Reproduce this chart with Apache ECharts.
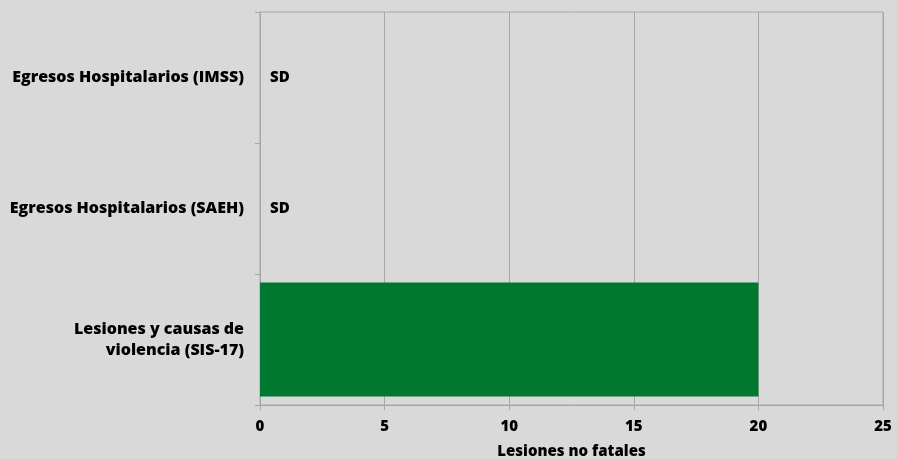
<!DOCTYPE html>
<html>
<head>
<meta charset="utf-8">
<script src="https://cdn.jsdelivr.net/npm/echarts@6/dist/echarts.min.js"></script>
<style>
  html, body { margin: 0; padding: 0; background: #d9d9d9; }
  #chart { width: 897px; height: 459px; }
</style>
</head>
<body>
<div id="chart"></div>
<script>
// categories, bottom to top
var categories = ['Lesiones y causas de\nviolencia (SIS-17)', 'Egresos Hospitalarios (SAEH)', 'Egresos Hospitalarios (IMSS)']
// null = sin dato (SD)
var values = [20, null, null]
var xTicks = [0, 5, 10, 15, 20, 25]

var font = 'Open Sans'
var chart = echarts.init(document.getElementById('chart'))

var seriesData = values.map(function (v) {
  if (v === null) {
    return { value: 0, label: { show: true, formatter: 'SD' } }
  }
  return { value: v }
})

chart.setOption({
  backgroundColor: '#d9d9d9',
  animation: false,
  grid: {
    left: 260, right: 14, top: 12, bottom: 54,
    outerBoundsMode: 'none',
    show: true, borderColor: '#a6a6a6', borderWidth: 1
  },
  xAxis: {
    type: 'value',
    min: xTicks[0],
    max: xTicks[xTicks.length - 1],
    interval: 5,
    name: 'Lesiones no fatales',
    nameLocation: 'middle',
    nameGap: 39,
    nameTextStyle: { fontFamily: font, fontWeight: 800, fontSize: 15, color: '#000' },
    axisLine: { show: true, lineStyle: { color: '#a6a6a6' } },
    axisTick: { show: true, length: 5, lineStyle: { color: '#a6a6a6' } },
    axisLabel: { margin: 14, fontFamily: font, fontWeight: 800, fontSize: 15, color: '#000' },
    splitLine: { show: true, lineStyle: { color: '#a6a6a6' } }
  },
  yAxis: {
    type: 'category',
    data: categories,
    axisLine: { show: true, lineStyle: { color: '#a6a6a6' } },
    axisTick: { show: true, length: 5, lineStyle: { color: '#a6a6a6' } },
    axisLabel: {
      margin: 16, fontFamily: font, fontWeight: 800, fontSize: 16, color: '#000',
      align: 'right', lineHeight: 21
    }
  },
  series: [{
    type: 'bar',
    data: seriesData,
    barWidth: '87%',
    itemStyle: { color: '#00782f' },
    label: {
      show: false, position: 'right', distance: 10,
      fontFamily: font, fontWeight: 800, fontSize: 15, color: '#000'
    }
  }]
})
</script>
</body>
</html>
